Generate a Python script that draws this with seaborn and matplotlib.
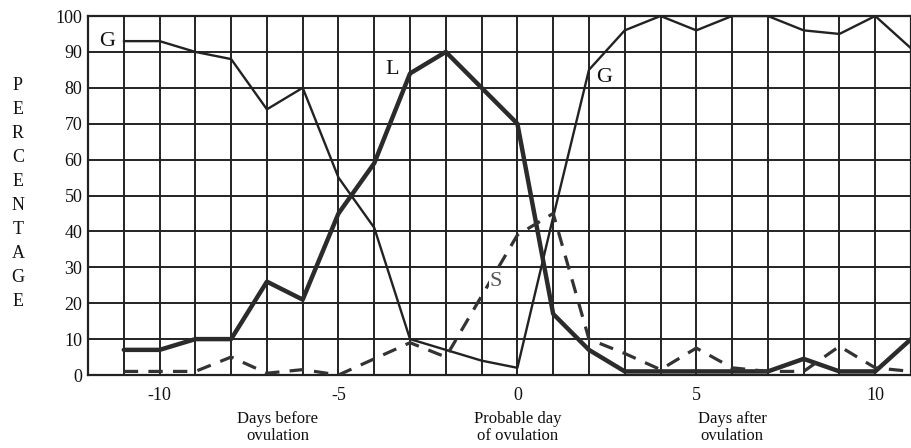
import numpy as np
import pandas as pd
import matplotlib
matplotlib.use("Agg")
import matplotlib.pyplot as plt
import seaborn as sns

# Days relative to the probable day of ovulation
days = list(range(-11, 12))

# Percentage of each cell type per day
g_values = [93, 93, 90, 88, 74, 80, 55, 41, 10, 7, 4, 2,
            44, 85, 96, 100, 96, 100, 100, 96, 95, 100, 91]
l_values = [7, 7, 10, 10, 26, 21, 45, 59, 84, 90, 80, 70,
            17, 7, 1, 1, 1, 1, 1, 4.5, 1, 1, 10]
s_values = [1, 1, 1, 5, 0.5, 1.5, 0, 4.5, 9, 5, 22, 39,
            45, 10, 6, 1.5, 7.5, 2, 1, 1, 8, 2, 1]

y_ticks = list(range(0, 101, 10))
x_ticks = [-10, -5, 0, 5, 10]
x_notes = [(-6.7, "Days before\novulation"),
           (0.0, "Probable day\nof ovulation"),
           (6.0, "Days after\novulation")]

df = pd.DataFrame({
    "day": days * 3,
    "pct": g_values + l_values + s_values,
    "series": ["G"] * len(days) + ["L"] * len(days) + ["S"] * len(days),
})

sns.set_style("white")
plt.rcParams["font.family"] = ["Liberation Serif", "DejaVu Serif"]

ink = "#222222"
fig = plt.figure(figsize=(9.11, 4.48), dpi=100)
ax = fig.add_axes([88 / 911, 1 - 375 / 448, 1 - 88 / 911, (375 - 16) / 448])

# grid of one day by ten percent
for xv in range(-11, 11):
    ax.axvline(xv, color=ink, lw=1.4, zorder=1)
for yv in y_ticks[1:]:
    ax.axhline(yv, color=ink, lw=1.4, zorder=1)

sns.lineplot(data=df[df.series == "G"], x="day", y="pct", ax=ax,
             color=ink, lw=1.7, zorder=3)
sns.lineplot(data=df[df.series == "L"], x="day", y="pct", ax=ax,
             color="#2b2b2b", lw=3.2, zorder=3)
sns.lineplot(data=df[df.series == "S"], x="day", y="pct", ax=ax,
             color="#333333", lw=2.3, zorder=3)
ax.lines[-1].set_dashes([4.5, 3.2])

ax.set_xlim(-12, 11)
ax.set_ylim(0, 100)
ax.set_xticks(x_ticks)
ax.set_xticklabels([str(v) for v in x_ticks])
ax.set_yticks(y_ticks)
ax.tick_params(axis="both", length=0, labelsize=13, colors="#111111", pad=4)
ax.tick_params(axis="x", pad=9)
ax.set_xlabel("")
ax.set_ylabel("")
for side in ["left", "top", "bottom", "right"]:
    ax.spines[side].set_color(ink)
    ax.spines[side].set_linewidth(1.6)

# curve labels
ax.text(-11.7, 93, "G", fontsize=16, va="center", ha="left", color="#111111")
ax.text(-3.7, 85, "L", fontsize=16, va="center", ha="left", color="#111111")
ax.text(2.2, 83, "G", fontsize=16, va="center", ha="left", color="#111111")
ax.text(-0.78, 26, "S", fontsize=16, va="center", ha="left", color="#555555",
        zorder=4, bbox=dict(facecolor="white", edgecolor="none", pad=0.5))

# vertical axis title, one letter per line
for i, ch in enumerate("PERCENTAGE"):
    fig.text(18 / 911, 1 - (85 + i * 24.1) / 448, ch, fontsize=13,
             ha="center", va="center", color="#111111")

for xv, note in x_notes:
    ax.text(xv, -10.0, note, fontsize=12, ha="center", va="top",
            linespacing=1.05, color="#111111", clip_on=False)

fig.savefig("out.png", dpi=100)
